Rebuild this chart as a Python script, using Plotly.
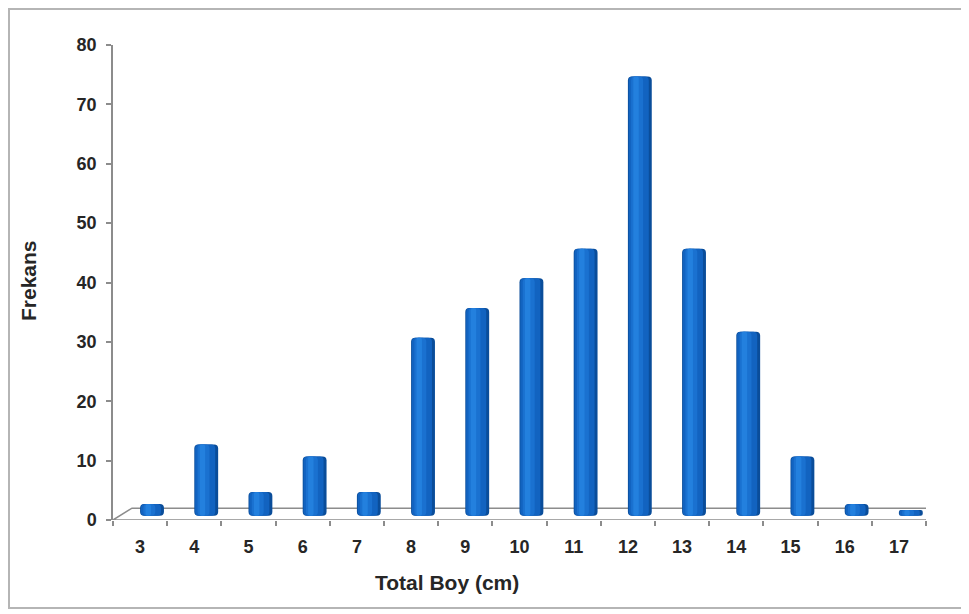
import plotly.graph_objects as go

# ---- data ----
categories = [3, 4, 5, 6, 7, 8, 9, 10, 11, 12, 13, 14, 15, 16, 17]
frequencies = [2, 12, 4, 10, 4, 30, 35, 40, 45, 74, 45, 31, 10, 2, 1]
y_ticks = [0, 10, 20, 30, 40, 50, 60, 70, 80]

# the page places the figure 8px in from the top-left corner
OFF = 8
W, H = 969 - OFF, 614 - OFF
L, T = 113 - OFF, 45 - OFF
plot_right, plot_bottom = 926 - OFF, 520 - OFF
R, B = W - plot_right, H - plot_bottom
pw, ph = W - L - R, H - T - B

# depth offsets of the pseudo-3D floor (data units)
dx_depth = 0.35
dy_depth = 2.0
bar_shift = 0.22   # bars sit at mid-depth
bar_lift = 0.7

fig = go.Figure()

# cylinder-like shading with overlaid bars: (width, centre shift, colour)
layers = [
    (0.44, 0.0, "#0a4d9a"),
    (0.37, -0.02, "#1263c0"),
    (0.22, -0.05, "#1a71d0"),
    (0.10, -0.07, "#2380de"),
]
for width, shift, color in layers:
    centre = bar_shift + shift
    fig.add_trace(go.Bar(
        x=categories, y=frequencies, base=bar_lift,
        width=width, offset=centre - width / 2,
        marker=dict(color=color, line=dict(width=0), cornerradius=4),
        hoverinfo="skip", showlegend=False,
    ))

# floor (parallelogram) drawn in axis coordinates
x_lo, x_hi = categories[0] - 0.5, categories[-1] + 0.5
floor_path = (f"M {x_lo},0 L {x_hi},0 L {x_hi + dx_depth},{dy_depth} "
              f"L {x_lo + dx_depth},{dy_depth} Z")


def px_x(sx):
    return (sx - OFF - L) / pw


def px_y(sy):
    return 1 - (sy - OFF - T) / ph


shapes = [
    dict(type="path", xref="x", yref="y", path=floor_path,
         line=dict(color="#8c8c8c", width=1.5), fillcolor="rgba(0,0,0,0)",
         layer="below"),
    # outer chart border
    dict(type="rect", xref="paper", yref="paper",
         x0=px_x(OFF + 1), x1=px_x(964),
         y0=px_y(608), y1=px_y(OFF + 1),
         line=dict(color="#b5b5b5", width=2), fillcolor="rgba(0,0,0,0)"),
]

font_family = "Liberation Sans, Arial, sans-serif"

fig.update_layout(
    width=W, height=H,
    margin=dict(l=L, r=R, t=T, b=B),
    paper_bgcolor="white", plot_bgcolor="white",
    barmode="overlay",
    shapes=shapes,
    xaxis=dict(
        range=[x_lo, x_hi], tickvals=categories,
        ticktext=[str(c) for c in categories],
        showgrid=False, zeroline=False, showline=False,
        ticks="", ticklabelstandoff=14,
        tickfont=dict(family=font_family, size=18, color="#262626", weight="bold"),
        minor=dict(tickvals=[c + 0.5 for c in [categories[0] - 1] + categories],
                   ticks="outside", ticklen=5, tickcolor="#8c8c8c", tickwidth=1.5),
    ),
    yaxis=dict(
        range=[0, 80], tickvals=y_ticks,
        showgrid=False, zeroline=False, showline=True,
        linecolor="#8c8c8c", linewidth=1.5,
        ticks="outside", ticklen=5, tickcolor="#8c8c8c", tickwidth=1.5,
        tickfont=dict(family=font_family, size=18, color="#262626", weight="bold"),
        ticklabelstandoff=6,
    ),
    annotations=[
        dict(text="<b>Total Boy (cm)</b>", xref="paper", yref="paper",
             x=px_x(447), y=px_y(582),
             xanchor="center", yanchor="middle", showarrow=False,
             font=dict(family=font_family, size=21, color="#262626")),
        dict(text="<b>Frekans</b>", xref="paper", yref="paper",
             x=px_x(28), y=px_y(281),
             xanchor="center", yanchor="middle", showarrow=False, textangle=-90,
             font=dict(family=font_family, size=21, color="#262626")),
    ],
)

fig.write_html("out.html")
